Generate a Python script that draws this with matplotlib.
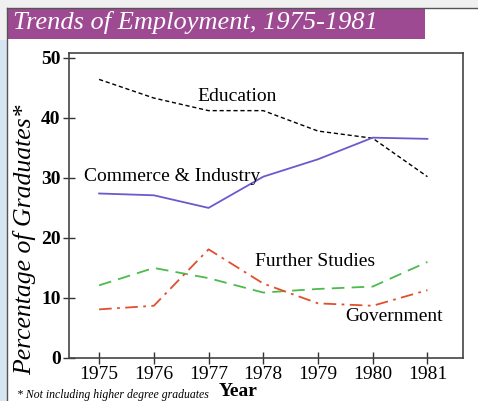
import matplotlib.pyplot as plt
from matplotlib.patches import Rectangle

years = [1975, 1976, 1977, 1978, 1979, 1980, 1981]
education = [46.4, 43.3, 41.2, 41.2, 37.8, 36.6, 30.2]
commerce = [27.4, 27.1, 25.0, 30.2, 33.1, 36.7, 36.5]
further = [12.1, 15.0, 13.3, 10.9, 11.5, 11.9, 16.0]
government = [8.1, 8.7, 18.1, 12.4, 9.1, 8.7, 11.3]
yticks = [0, 10, 20, 30, 40, 50]

plt.rcParams["font.family"] = "Liberation Serif"

W, H = 478, 401
fig = plt.figure(figsize=(W / 100, H / 100), dpi=100)
fig.patch.set_facecolor("white")

# page frame bits around the slide
fig.add_artist(Rectangle((0, 1 - 8 / H), 1, 8 / H, transform=fig.transFigure,
                         facecolor="#f0f0f0", edgecolor="none"))
fig.add_artist(Rectangle((0, 0), 7 / W, 1 - 40 / H, transform=fig.transFigure,
                         facecolor="#d5e5f1", edgecolor="none"))
fig.add_artist(Rectangle((0, 1 - 40 / H), 7 / W, 32 / H, transform=fig.transFigure,
                         facecolor="#f0f0f0", edgecolor="none"))
fig.add_artist(plt.Line2D([7 / W, 7 / W], [0, 1 - 8 / H], transform=fig.transFigure,
                          color="#555555", lw=1.0))
fig.add_artist(plt.Line2D([7 / W, 1], [1 - 8 / H, 1 - 8 / H], transform=fig.transFigure,
                          color="#555555", lw=1.0))

# title bar
fig.add_artist(Rectangle((8 / W, 1 - 39 / H), 417 / W, 30 / H, transform=fig.transFigure,
                         facecolor="#9e4a92", edgecolor="none"))
fig.text(13 / W, 1 - 23 / H, "Trends of Employment, 1975-1981", color="white",
         fontsize=19, style="italic", va="center", ha="left")

ax = fig.add_axes([69 / W, 1 - 358 / H, 394 / W, 305 / H])
ax.plot(years, education, color="black", ls=(0, (3, 2)), lw=1.0)
ax.plot(years, commerce, color="#6a5acd", ls="-", lw=1.3)
ax.plot(years, further, color="#4cbb4c", ls=(0, (7, 4)), lw=1.3)
ax.plot(years, government, color="#e0502c", ls=(0, (7, 3, 1.5, 3)), lw=1.3)

ax.set_xlim(1974.45, 1981.65)
ax.set_ylim(0, 50.8)
ax.set_xticks(years)
ax.set_xticklabels([str(y) for y in years], fontsize=14)
ax.set_yticks(yticks)
ax.set_yticklabels([str(v) for v in yticks], fontsize=14, fontweight="bold")
ax.tick_params(axis="both", direction="inout", length=8, width=1.0, color="#333333", pad=2)
for s in ax.spines.values():
    s.set_color("#444444")
    s.set_linewidth(1.2)

ax.text(1977.53, 43.6, "Education", fontsize=14, ha="center", va="center")
ax.text(1976.34, 30.3, "Commerce & Industry", fontsize=14, ha="center", va="center")
ax.text(1978.95, 16.1, "Further Studies", fontsize=14, ha="center", va="center")
ax.text(1980.39, 6.9, "Government", fontsize=14, ha="center", va="center")

fig.text(25 / W, 1 - 240 / H, "Percentage of Graduates*", fontsize=18.5, style="italic",
         rotation=90, ha="center", va="center")
fig.text(17 / W, 1 - 395 / H, "* Not including higher degree graduates", fontsize=8.5,
         style="italic", ha="left", va="center")
fig.text(238 / W, 1 - 392 / H, "Year", fontsize=14, fontweight="bold", ha="center", va="center")

fig.savefig("out.png", dpi=100)
